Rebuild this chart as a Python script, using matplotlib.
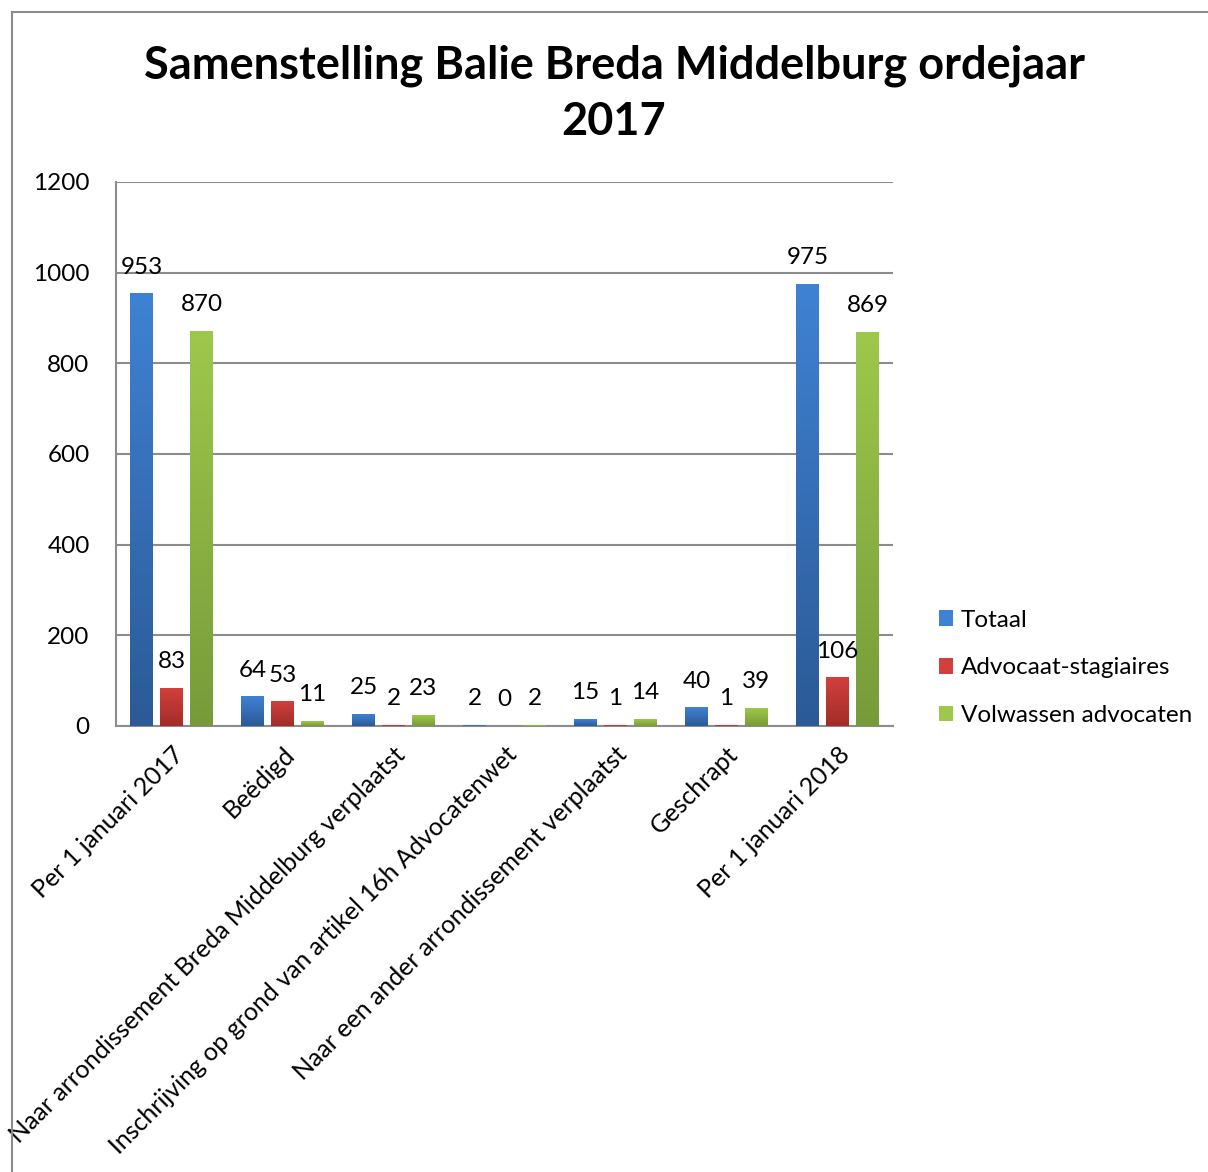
import matplotlib
matplotlib.use("Agg")
import matplotlib.pyplot as plt
import numpy as np
from matplotlib.colors import LinearSegmentedColormap
from matplotlib.patches import Rectangle
from matplotlib.lines import Line2D

categories = ["Per 1 januari 2017", "Beëdigd", "Naar arrondissement Breda Middelburg verplaatst",
              "Inschrijving op grond van artikel 16h Advocatenwet",
              "Naar een ander arrondissement verplaatst", "Geschrapt", "Per 1 januari 2018"]
series_names = ["Totaal", "Advocaat-stagiaires", "Volwassen advocaten"]
totaal = [953, 64, 25, 2, 15, 40, 975]
stagiaires = [83, 53, 2, 0, 1, 1, 106]
volwassen = [870, 11, 23, 2, 14, 39, 869]
y_ticks = [0, 200, 400, 600, 800, 1000, 1200]
title_lines = ["Samenstelling Balie Breda Middelburg ordejaar", "2017"]

colors_top = ["#3F82D3", "#D2403C", "#9EC84B"]
colors_bot = ["#2B5A96", "#A12C2A", "#779B3A"]

FONT = ["Lato", "DejaVu Sans"]
plt.rcParams['font.family'] = FONT
FS = 17.5

fig = plt.figure(figsize=(12.08, 11.72), dpi=100)
ax = fig.add_axes([116/1208, 1-726/1172, (893-116)/1208, (726-182)/1172])

# figure border
fig.add_artist(Line2D([12/1208, 1], [1-12/1172, 1-12/1172], color="#8c8c8c", lw=1.5, transform=fig.transFigure))
fig.add_artist(Line2D([12/1208, 12/1208], [0, 1-12/1172], color="#8c8c8c", lw=1.5, transform=fig.transFigure))

x = np.arange(len(categories))
width = 0.205
offset = 0.27
all_series = [totaal, stagiaires, volwassen]
for i, vals in enumerate(all_series):
    pos = x + (i-1)*offset
    bars = ax.bar(pos, vals, width, color=colors_top[i], zorder=3, label=series_names[i], linewidth=0)
    cmap = LinearSegmentedColormap.from_list("g%d" % i, [colors_bot[i], colors_top[i]])
    grad = np.linspace(0, 1, 256).reshape(-1, 1)
    for b in bars:
        bx, bw, bh = b.get_x(), b.get_width(), b.get_height()
        if bh <= 0:
            continue
        ax.imshow(grad, extent=[bx, bx+bw, 0, bh], origin="lower", cmap=cmap,
                  aspect="auto", zorder=3.5, interpolation="bilinear")
    for p, v in zip(pos, vals):
        ax.text(p, v + 36, str(v), ha="center", va="bottom", fontsize=FS, color="#000000", zorder=5)

ax.set_xlim(-0.5, len(categories)-0.5)
ax.set_ylim(0, 1200)
ax.set_yticks(y_ticks)
ax.set_yticklabels([str(t) for t in y_ticks], fontsize=FS)
ax.yaxis.grid(True, color="#8c8c8c", lw=1.5, zorder=0)
ax.set_axisbelow(True)
ax.set_xticks(x)
ax.set_xticklabels(categories, rotation=45, ha="right", rotation_mode="anchor", fontsize=18)
ax.tick_params(axis="x", length=0, pad=12)
ax.tick_params(axis="y", length=0, pad=19)
for s in ["top", "right"]:
    ax.spines[s].set_visible(False)
for s in ["left", "bottom"]:
    ax.spines[s].set_color("#8c8c8c")
    ax.spines[s].set_linewidth(1.5)

fig.text(614/1208, 1-66/1172, title_lines[0], ha="center", va="center", fontsize=32.5, fontweight="bold")
fig.text(614/1208, 1-122/1172, title_lines[1], ha="center", va="center", fontsize=32.5, fontweight="bold")

handles = [Rectangle((0, 0), 1, 1, facecolor=c) for c in colors_top]
leg = fig.legend(handles, series_names, loc="center left", bbox_to_anchor=(917/1208, 1-668/1172),
                 frameon=False, fontsize=FS, handlelength=0.6, handleheight=0.6,
                 handletextpad=0.3, labelspacing=1.1)

fig.savefig("out.png", dpi=100)
